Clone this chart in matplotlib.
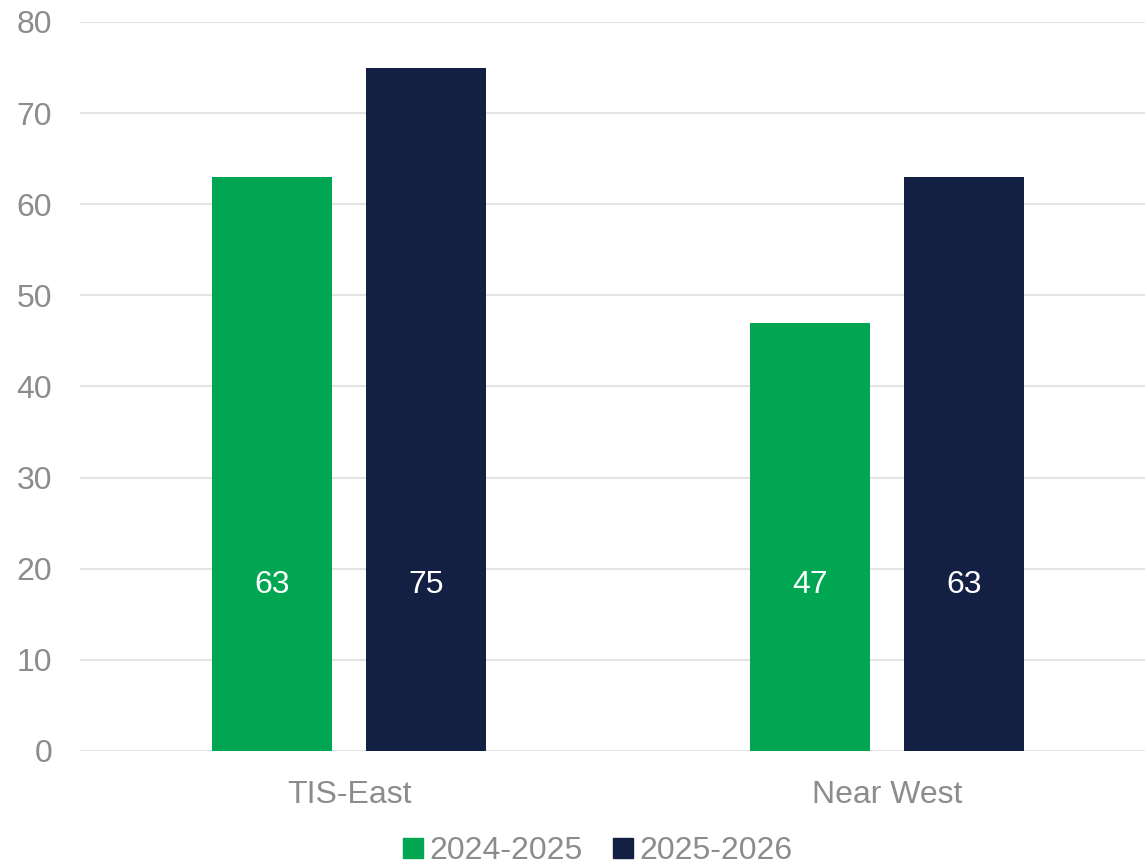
import numpy as np
import matplotlib.pyplot as plt
from matplotlib.patches import Patch

plt.rcParams['font.family'] = ['Liberation Sans', 'DejaVu Sans']

categories = ['TIS-East', 'Near West']
series_names = ['2024-2025', '2025-2026']
values_2024 = [63, 47]
values_2025 = [75, 63]
yticks = [0, 10, 20, 30, 40, 50, 60, 70, 80]

colors = ['#00A651', '#132044']
gray = '#8C8C8C'

fig = plt.figure(figsize=(11.45, 8.65), dpi=100)
ax = fig.add_axes([0.0699, 0.1318, 0.9301, 0.8428])

x = np.arange(len(categories))
w = 0.223
off = 0.143
b1 = ax.bar(x - off, values_2024, width=w, color=colors[0], zorder=3)
b2 = ax.bar(x + off, values_2025, width=w, color=colors[1], zorder=3)

# value labels sit low inside the bars, like the original
for bars, vals in [(b1, values_2024), (b2, values_2025)]:
    for r, v in zip(bars, vals):
        ax.text(r.get_x() + r.get_width() / 2, 18.2, str(v), color='white',
                ha='center', va='center', fontsize=23, zorder=4)

ax.set_ylim(0, 80)
ax.set_xlim(-0.5, 1.4796)
ax.set_yticks(yticks)
ax.set_xticks(x)
ax.set_xticklabels(categories)
ax.tick_params(axis='y', length=0, pad=20, labelsize=23, labelcolor=gray)
ax.tick_params(axis='x', length=0, pad=21, labelsize=23, labelcolor=gray)
ax.yaxis.grid(True, color='#E3E3E3', linewidth=1.5, zorder=0)
ax.set_axisbelow(True)
for s in ax.spines.values():
    s.set_visible(False)

handles = [Patch(color=c) for c in colors]
fig.legend(handles, series_names, loc='center', bbox_to_anchor=(0.522, 0.016),
           ncol=2, frameon=False, fontsize=23, labelcolor=gray,
           handlelength=0.62, handleheight=0.62, handletextpad=0.2,
           columnspacing=0.95, borderpad=0.0)

fig.savefig('out.png', dpi=100)
